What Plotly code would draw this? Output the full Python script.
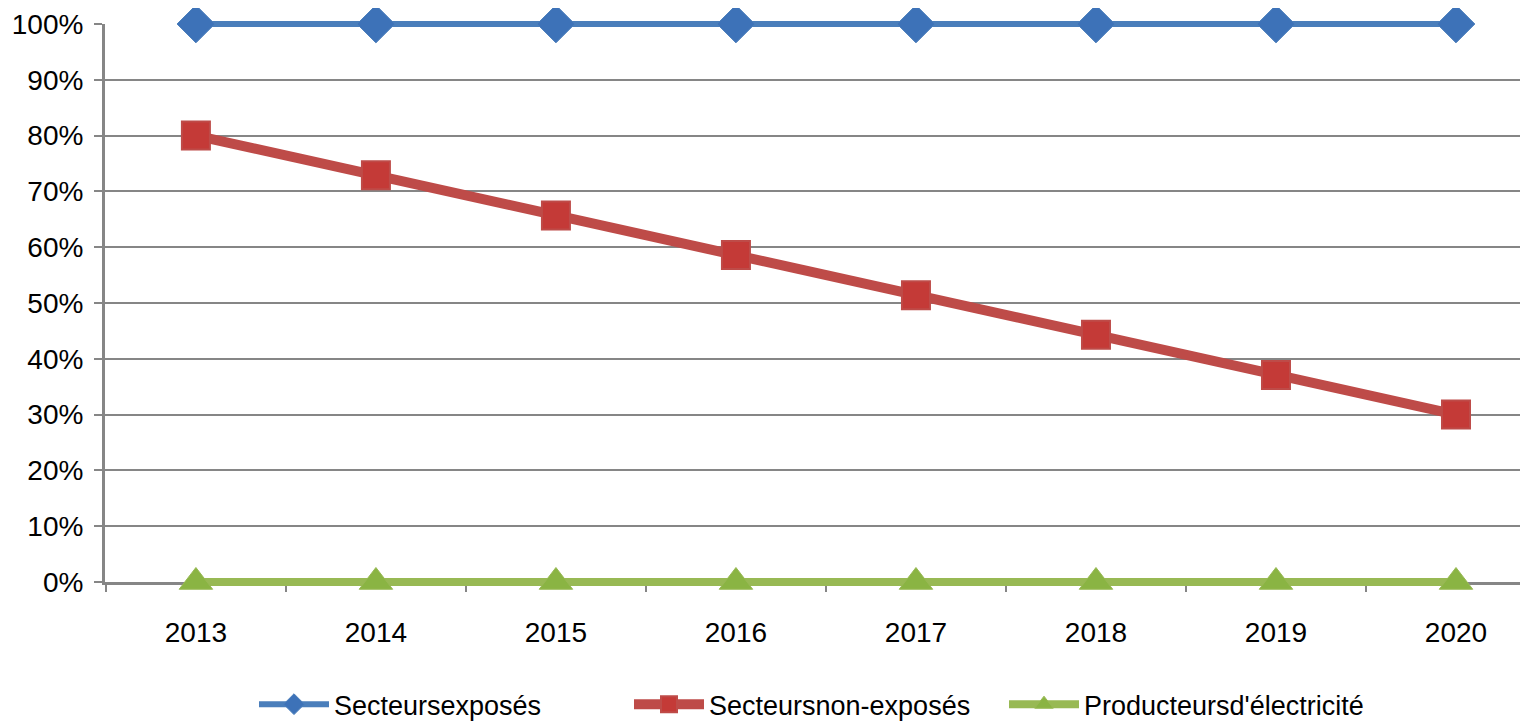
import plotly.graph_objs as go

years = ["2013", "2014", "2015", "2016", "2017", "2018", "2019", "2020"]
exposes = [1.0, 1.0, 1.0, 1.0, 1.0, 1.0, 1.0, 1.0]
non_exposes = [0.80, 0.729, 0.657, 0.586, 0.514, 0.443, 0.371, 0.30]
electricite = [0.0, 0.0, 0.0, 0.0, 0.0, 0.0, 0.0, 0.0]

GRID = "#868686"
FONT = dict(family="Liberation Sans, Arial, sans-serif", size=28, color="#000000")

# the traces sit on a slightly taller hidden axis so that the lines at 0% and
# 100% are not cut in half by the plot-area clipping
PAD = 12
PLOT_H = 582
UNIT = PLOT_H - 2 * PAD

fig = go.Figure()

# invisible trace so the visible percentage axis gets drawn
fig.add_trace(go.Scatter(
    x=years, y=electricite, mode="lines", line=dict(width=0, color="rgba(0,0,0,0)"),
    showlegend=False, hoverinfo="skip",
))
fig.add_trace(go.Scatter(
    x=years, y=exposes, name="Secteursexposés", mode="lines+markers",
    line=dict(color="#4a7ebb", width=6),
    marker=dict(symbol="diamond", size=29, color="#3d72b8",
                line=dict(color="#4a7ebb", width=1)),
    cliponaxis=False, yaxis="y2",
))
fig.add_trace(go.Scatter(
    x=years, y=non_exposes, name="Secteursnon-exposés", mode="lines+markers",
    line=dict(color="#be4b48", width=10),
    marker=dict(symbol="square", size=28, color="#c43a37",
                line=dict(color="#be4b48", width=2)),
    cliponaxis=False, yaxis="y2",
))
fig.add_trace(go.Scatter(
    x=years, y=electricite, name="Producteursd'électricité", mode="lines+markers",
    line=dict(color="#98b954", width=8),
    marker=dict(symbol="triangle-up", size=29, color="#8ab443",
                line=dict(color="#98b954", width=1)),
    cliponaxis=False, yaxis="y2",
))

fig.update_layout(
    width=1520, height=729,
    paper_bgcolor="white", plot_bgcolor="rgba(0,0,0,0)",
    margin=dict(l=97, r=0, t=16 - PAD, b=155 - PAD),
    font=FONT,
    legend=dict(orientation="h", x=0.5, xanchor="center", y=-0.148, yanchor="top",
                font=dict(family="Liberation Sans, Arial, sans-serif", size=27),
                itemwidth=70, entrywidth=290, tracegroupgap=0),
    showlegend=True,
    xaxis=dict(
        type="category", range=[-0.505, 7.4], anchor="y",
        showgrid=False, showline=True, linecolor=GRID, linewidth=3,
        ticks="outside", tickson="boundaries", ticklen=7, tickwidth=2, tickcolor=GRID,
        ticklabelstandoff=23, tickfont=FONT, zeroline=False, automargin=False,
    ),
    yaxis=dict(
        domain=[PAD / PLOT_H, 1 - PAD / PLOT_H],
        range=[0, 1], tickvals=[i / 10 for i in range(11)], tickformat=".0%",
        showgrid=True, gridcolor=GRID, gridwidth=2,
        showline=True, linecolor=GRID, linewidth=3,
        ticks="outside", ticklen=8, tickwidth=2, tickcolor=GRID,
        ticklabelstandoff=5, tickfont=FONT, zeroline=False, automargin=False,
    ),
    yaxis2=dict(
        domain=[0, 1], range=[-PAD / UNIT, 1 + PAD / UNIT], anchor="x",
        visible=False, showgrid=False, zeroline=False, fixedrange=True,
    ),
)

fig.write_html("out.html")
